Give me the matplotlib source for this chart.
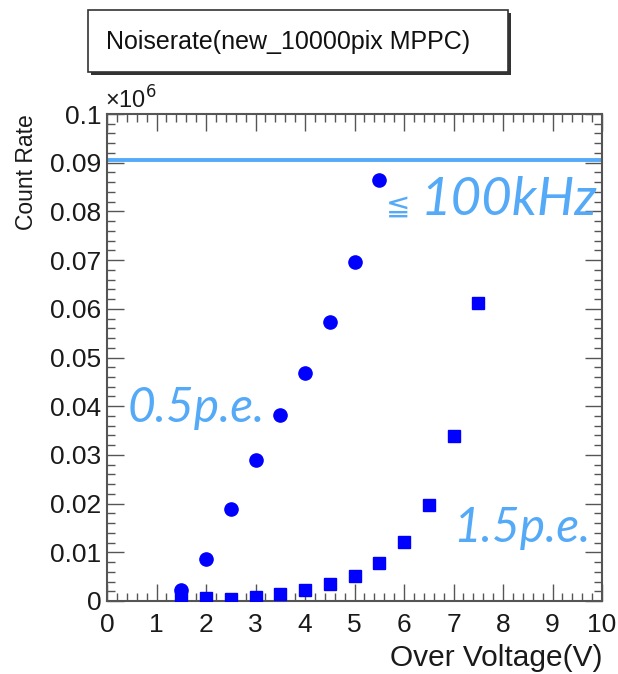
import matplotlib
matplotlib.use("Agg")
from matplotlib import pyplot as plt
from matplotlib.ticker import MultipleLocator, FixedFormatter, FixedLocator
import matplotlib.patches as patches

# over voltage (V)
volt_05pe = [1.5, 2.0, 2.5, 3.0, 3.5, 4.0, 4.5, 5.0, 5.5]
rate_05pe = [0.0022, 0.0086, 0.0189, 0.0290, 0.0382, 0.0468, 0.0572, 0.0696, 0.0865]

volt_15pe = [1.5, 2.0, 2.5, 3.0, 3.5, 4.0, 4.5, 5.0, 5.5, 6.0, 6.5, 7.0, 7.5]
rate_15pe = [0.0006, 0.0006, 0.0005, 0.0009, 0.0014, 0.0022, 0.0035, 0.0052, 0.0078,
             0.0121, 0.0198, 0.0338, 0.0612]

limit_rate = 0.0906  # 100kHz line

yticks = [0, 0.01, 0.02, 0.03, 0.04, 0.05, 0.06, 0.07, 0.08, 0.09, 0.1]
ytick_labels = ["0", "0.01", "0.02", "0.03", "0.04", "0.05", "0.06", "0.07", "0.08", "0.09", "0.1"]
xticks = list(range(0, 11))

plt.rcParams['font.family'] = ['Liberation Sans', 'DejaVu Sans']

W, H = 618, 674
fig = plt.figure(figsize=(W / 100, H / 100), dpi=100)
ax = fig.add_axes([107 / W, 73 / H, 495 / W, 487 / H])

ax.set_xlim(0, 10)
ax.set_ylim(0, 0.1)

light_blue = '#55aaf8'
text_col = '#1a1a1a'

# 100kHz line
ax.axhline(limit_rate, color=light_blue, lw=2.8, zorder=2)

ax.plot(volt_05pe, rate_05pe, 'o', color='#0000ff', ms=9.5, mec='#0000ff', zorder=3)
ax.plot(volt_15pe, rate_15pe, 's', color='#0000ff', ms=8.5, mec='#0000ff', zorder=3)

# ticks, ROOT style
ax.xaxis.set_major_locator(FixedLocator(xticks))
ax.xaxis.set_minor_locator(MultipleLocator(0.2))
ax.yaxis.set_major_locator(FixedLocator(yticks))
ax.yaxis.set_major_formatter(FixedFormatter(ytick_labels))
ax.yaxis.set_minor_locator(MultipleLocator(0.002))
ax.tick_params(which='both', direction='in', top=True, right=True, color='#555555',
               labelsize=19, labelcolor=text_col)
ax.tick_params(which='major', length=12, width=1)
ax.tick_params(which='minor', length=6, width=1)
ax.tick_params(axis='x', pad=9)
ax.tick_params(axis='y', pad=4)
for s in ax.spines.values():
    s.set_color('#555555')
    s.set_linewidth(1.5)

ax.text(-0.005, 1.0, "×10$^6$", transform=ax.transAxes, fontsize=17,
        color=text_col, ha='left', va='bottom')

ax.set_ylabel("Count Rate", fontsize=16.5, color=text_col, loc='top', labelpad=9)
ax.set_xlabel("Over Voltage(V)", fontsize=21.5, color=text_col, loc='right', labelpad=5)

# annotations
ann = dict(color=light_blue, style='italic', family=['Lato', 'DejaVu Sans'])
ax.text(6.12, 0.0793, "≦", fontsize=21, ha='right', va='baseline',
        color=light_blue, family='DejaVu Sans')
ax.text(9.9, 0.0793, "100kHz", fontsize=38, ha='right', va='baseline', **ann)
ax.text(0.42, 0.0368, "0.5p.e.", fontsize=34.5, ha='left', va='baseline', **ann)
ax.text(9.76, 0.0121, "1.5p.e.", fontsize=34.5, ha='right', va='baseline', **ann)

# title box with shadow
shadow = patches.Rectangle((91 / W, 1 - 75 / H), 420 / W, 62 / H, transform=fig.transFigure,
                           facecolor='#333333', edgecolor='none')
box = patches.Rectangle((88 / W, 1 - 72 / H), 420 / W, 62 / H, transform=fig.transFigure,
                        facecolor='white', edgecolor='#333333', lw=1.2)
fig.patches.extend([shadow, box])
fig.text(288 / W, 1 - 42 / H, "Noiserate(new_10000pix MPPC)", fontsize=18,
         ha='center', va='center', color='#111111')

fig.savefig("out.png", dpi=100)
